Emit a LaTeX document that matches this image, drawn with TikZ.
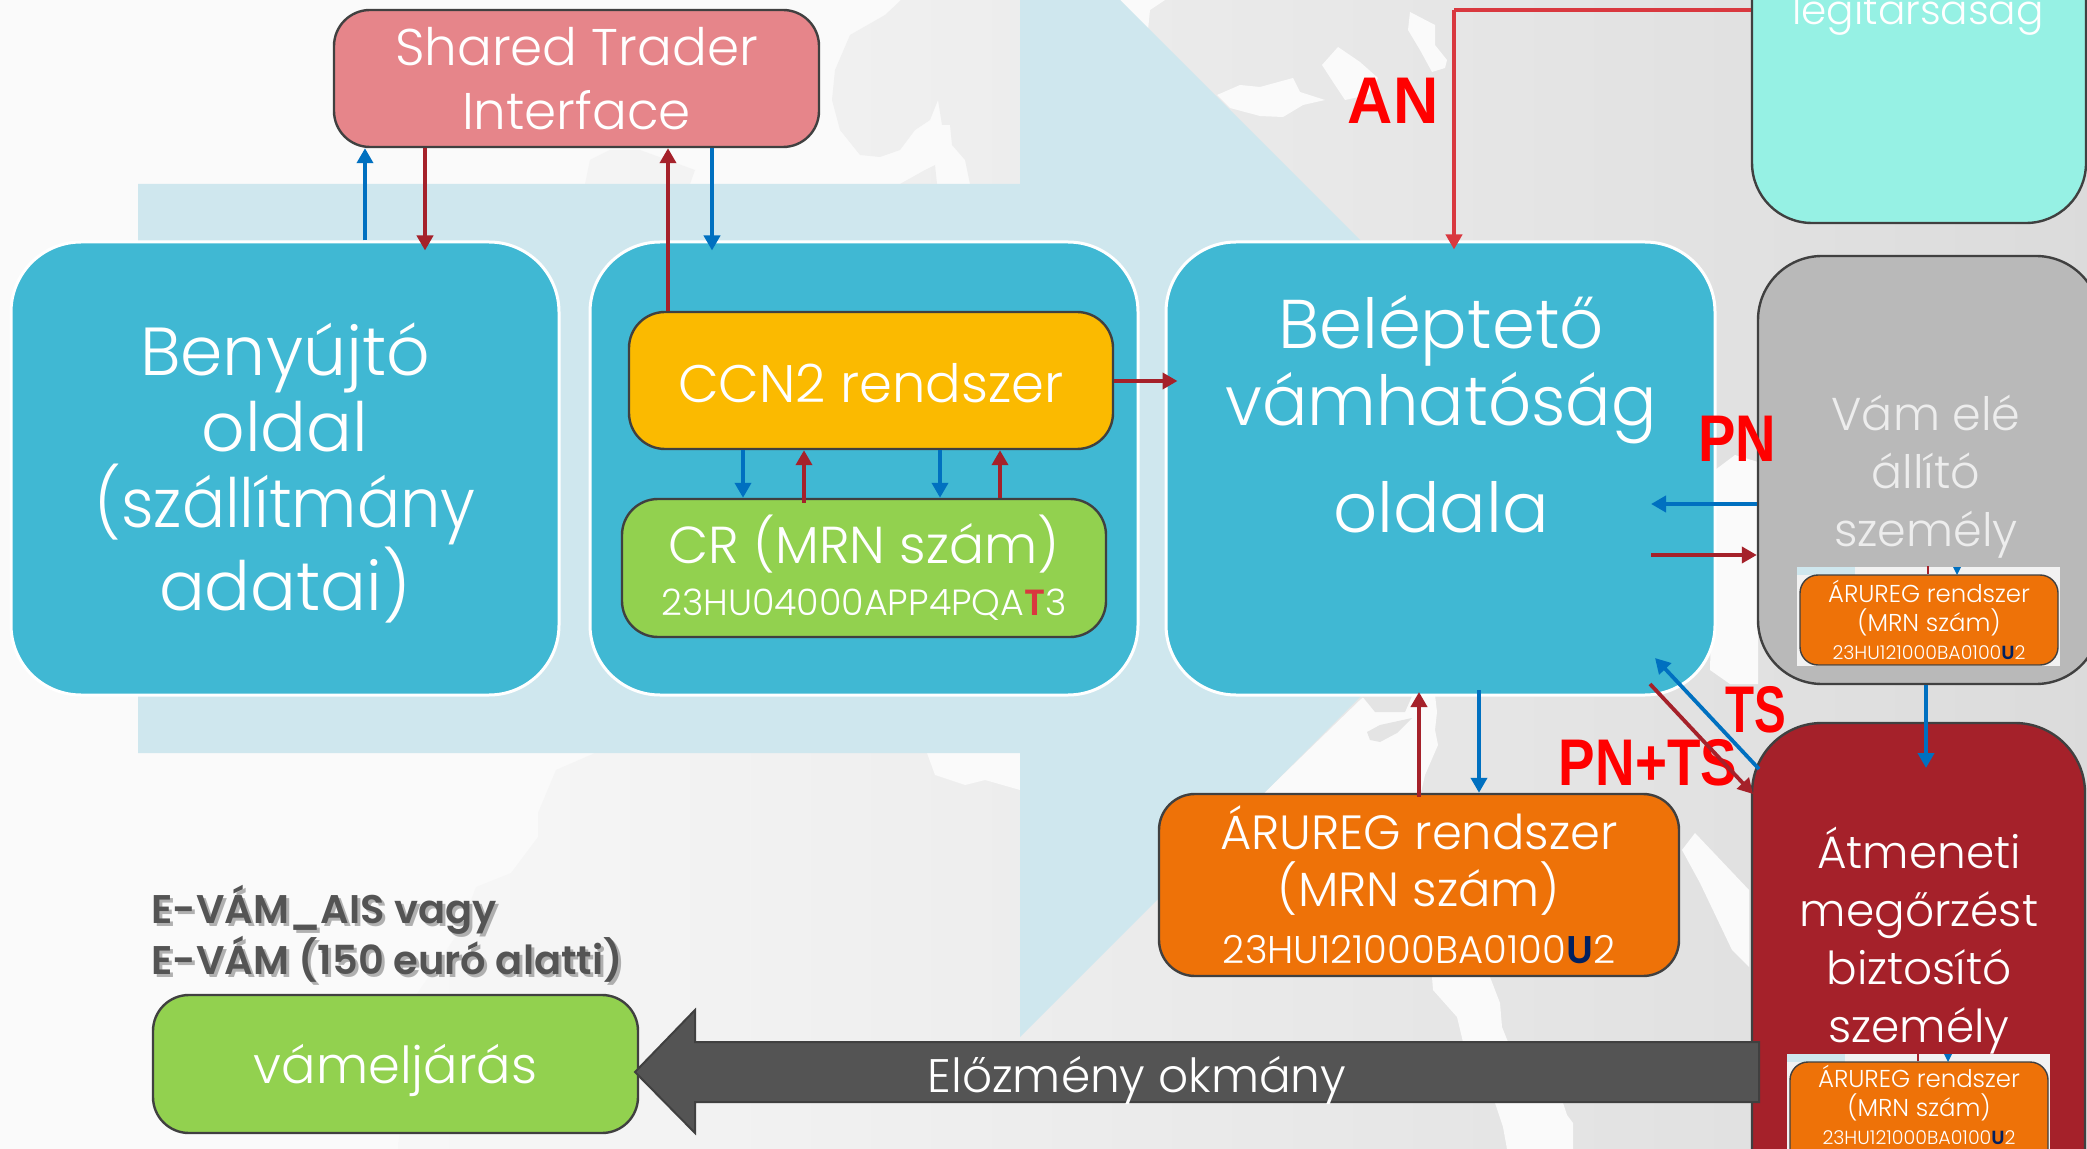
\documentclass[tikz,border=0pt]{standalone}
\usepackage{fontspec}
\setmainfont{Poppins Light}
\newfontfamily\boldf{Poppins SemiBold}
\newfontfamily\redf{Liberation Sans Bold}
\usetikzlibrary{arrows.meta}
\definecolor{tealblue}{HTML}{40B8D3}
\definecolor{arrowbg}{HTML}{CFE7EE}
\definecolor{darkred}{HTML}{A5212A}
\definecolor{linkblue}{HTML}{0070C0}
\definecolor{anred}{HTML}{D9383F}
\definecolor{orangeb}{HTML}{EE7208}
\definecolor{greenb}{HTML}{92D14F}
\definecolor{amber}{HTML}{FBBA00}
\definecolor{pinkb}{HTML}{E6858A}
\definecolor{mint}{HTML}{96F1E4}
\definecolor{grayb}{HTML}{B9B9B9}
\definecolor{edgeb}{HTML}{404040}
\definecolor{darkarrow}{HTML}{545454}
\definecolor{navyu}{HTML}{002060}
\definecolor{landmark}{HTML}{E4E4E4}
\newcommand{\fs}[2]{\fontsize{#1}{#2}\selectfont}
\newcommand{\bx}[7]{\pgfmathsetmacro\cxx{(#2+#4)/2}\pgfmathsetmacro\cyy{(#3+#5)/2}\pgfmathsetmacro\ww{(#4-#2)*0.5}\pgfmathsetmacro\hh{(#5-#3)*0.5}\node[#6,minimum width=\ww pt,minimum height=\hh pt] (#1) at (\cxx,\cyy) {#7};}
\newcommand{\tu}{\textcolor{navyu}{\boldf U}}
\tikzset{
 base box/.style={rectangle,inner sep=0pt,align=center,text=white},
 panel/.style={base box,fill=tealblue,draw=white,line width=1.5pt,rounded corners=35pt},
 sbox/.style={base box,draw=edgeb,line width=1.2pt,rounded corners=#1},
 txt/.style={inner sep=0pt,align=center,text=white},
 redlabel/.style={inner sep=0pt,text={rgb,255:red,255;green,0;blue,0},font=\redf\fs{33}{33}},
 tipr/.style={-{Triangle[length=7.5pt,width=8pt]}},
 blue link/.style={draw=linkblue,line width=1.9pt,tipr},
 red link/.style={draw=darkred,line width=1.9pt,tipr},
}
\begin{document}
\begin{tikzpicture}[x=0.5pt,y=-0.5pt]
\useasboundingbox (0,0) rectangle (2087,1149);
\clip (0,0) rectangle (2087,1149);
% background
\fill[white!98!black] (0,0) rectangle (2087,1149);
\path[left color=white!97!black,right color=white!86!black]
 (595,753) -- (556,770) -- (538,813) -- (538,837) -- (511,873) -- (476,887) -- (460,930) -- (413,1000) -- (398,1149) -- (2087,1149) -- (2087,0) -- (1120,0) -- (1100,300) -- (900,400) -- (595,400) -- cycle
 (901,0) -- (885,15) -- (850,35) -- (835,70) -- (832,100) -- (840,130) -- (860,155) -- (880,157) -- (900,150) -- (915,130) -- (930,120) -- (938,100) -- (942,125) -- (950,125) -- (952,145) -- (965,160) -- (970,184) -- (1020,184) -- (1020,0) -- cycle
 (900,184) -- (925,170) -- (935,165) -- (937,184) -- cycle
 (585,184) -- (590,160) -- (610,150) -- (640,150) -- (695,170) -- (690,184) -- cycle;
% white land details
\fill[white!98!black] (927,753) -- (935,775) -- (965,785) -- (985,780) -- (1020,790) -- (1020,753) -- cycle
 (1120,0) -- (1165,0) -- (1150,10) -- (1148,30) -- cycle
 (1217,95) -- (1240,85) -- (1260,87) -- (1293,78) -- (1300,92) -- (1325,100) -- (1303,105) -- (1283,117) -- (1260,116) -- (1230,108) -- cycle
 (1338,47) -- (1322,65) -- (1335,85) -- (1345,100) -- (1368,95) -- (1378,78) -- (1360,62) -- cycle
 (1410,12) -- (1435,25) -- (1435,45) -- (1447,60) -- (1445,68) -- (1432,72) -- (1420,50) -- (1408,30) -- cycle
 (1715,470) -- (1735,455) -- (1758,462) -- (1758,684) -- (1730,684) -- (1710,670) -- cycle
 (1682,850) -- (1695,833) -- (1749,890) -- (1749,967) -- (1732,950) -- (1700,883) -- cycle
 (1432,977) -- (1490,977) -- (1500,1003) -- (1502,1027) -- (1508,1042) -- (1463,1042) -- (1457,1017) -- (1433,990) -- cycle
 (1495,1103) -- (1563,1103) -- (1567,1115) -- (1573,1123) -- (1573,1149) -- (1507,1149) -- (1503,1127) -- cycle
 (1360,700) -- (1366,695) -- (1435,695) -- (1437,712) -- (1435,730) -- (1438,745) -- (1425,775) -- (1420,797) -- (1260,797) -- cycle;
\fill[landmark] (1362,696) -- (1412,696) -- (1405,712) -- (1375,712) -- cycle
 (1367,732) -- (1380,725) -- (1412,718) -- (1400,730) -- (1397,733) -- (1380,742) -- (1370,740) -- cycle;
% big pale arrow
\fill[arrowbg] (138,184) -- (1020,184) -- (1020,-100) -- (1588.5,468.5) -- (1020,1037) -- (1020,753) -- (138,753) -- cycle;
% panels
\bx{sub}{11}{242}{559}{695}{panel}{}
\node[txt,font=\fs{34}{38}] (subT) at (285,473) {Benyújtó\\oldal\\\scalebox{.94}[1]{(szállítmány}\\adatai)};
\bx{ccn}{590}{242}{1138}{695}{panel}{}
\bx{ent}{1166}{242}{1715}{695}{panel}{}
\node[txt,font=\fs{34.5}{38.5}] (entT) at (1441,414) {Beléptető\\\scalebox{.975}[1]{vámhatóság}\\[15pt]oldala};
\bx{sti}{334}{10}{819}{147}{sbox=18pt,fill=pinkb,font=\fs{25.8}{32}}{Shared Trader\\Interface}
\bx{ccnbox}{629}{312}{1113}{449}{sbox=18pt,fill=amber,font=\fs{26.4}{30}}{\raisebox{-1.5pt}[\height][\depth]{CCN2 rendszer}}
\bx{cr}{622}{499}{1106}{637}{sbox=18pt,fill=greenb,font=\fs{26}{26}}{CR (MRN szám)\\\fs{18.2}{21}23HU04000APP4PQA\textcolor{anred}{\boldf T}3}
\bx{air}{1752}{-120}{2086}{223}{sbox=30pt,fill=mint}{}
\node[txt,anchor=base,font=\fs{20.3}{23}] (airT) at (1918,25) {légitársaság};
\bx{pres}{1758}{256}{2100}{684}{sbox=32pt,fill=grayb}{}
\node[txt,font=\fs{23}{29},text=white!93!black] (presT) at (1926,477) {Vám elé\\állító\\személy};
\bx{warehouse}{1752}{723}{2085}{1260}{sbox=35pt,fill=darkred}{}
\node[txt,font=\fs{22.7}{29}] (wareT) at (1919,941) {Átmeneti\\megőrzést\\biztosító\\személy};
% inserted pictures
\fill[white!95!black] (1797,567) rectangle (2060,666);
\fill[arrowbg] (1797,567) rectangle (1855,575);
\fill[white!95!black] (1787,1054) rectangle (2050,1149);
\fill[arrowbg] (1787,1054) rectangle (1845,1062);
\bx{reg2}{1800}{575}{2058}{665}{sbox=9pt,fill=orangeb,line width=.7pt}{}
\node[txt,font=\fs{12.2}{14.2}] (reg2T) at (1929,620) {ÁRUREG rendszer\\(MRN szám)\\\fs{9.5}{8}23HU121000BA0100\tu 2};
\bx{reg3}{1790}{1062}{2048}{1175}{sbox=9pt,fill=orangeb,line width=.7pt}{}
\node[txt,font=\fs{12.2}{14.2}] (reg3T) at (1919,1105) {ÁRUREG rendszer\\(MRN szám)\\\fs{9.5}{8}23HU121000BA0100\tu 2};
\draw[draw=darkred,line width=.8pt] (reg2.north -| 1928,0) -- ++(0,-8);
\fill[linkblue] (1953,567) -- (1961,567) -- (1957,575) -- cycle;
\draw[draw=darkred,line width=.8pt] (reg3.north -| 1918,0) -- ++(0,-8);
\fill[linkblue] (1944,1054) -- (1952,1054) -- (1948,1062) -- cycle;
\bx{reg}{1159}{794}{1679}{976}{sbox=18pt,fill=orangeb,font=\fs{24}{28.5}}{ÁRUREG rendszer\\(MRN szám)\\\fs{19.3}{18.5}23HU121000BA0100\tu 2}
\bx{proc}{153}{995}{638}{1133}{sbox=18pt,fill=greenb,font=\fs{25.5}{25}}{\raisebox{-3.3pt}[\height][\depth]{vámeljárás}}
% previous document arrow
\draw[fill=darkarrow,draw=edgeb,line width=1pt] (1759,1042) -- (695,1042) -- (695,1010) -- (635,1072) -- (695,1133) -- (695,1102) -- (1759,1102) -- cycle;
\coordinate (prevS) at (1137,1080);
\node[txt,font=\fs{23.5}{22},anchor=center] (prevT) at (prevS) {Előzmény okmány};
% labels
\node[inner sep=0pt,align=left,anchor=north west,font=\boldf\fs{20}{23.5},text=black!50,opacity=.6] (evamS) at (154,888) {E-VÁM\_AIS vagy\\E-VÁM (150 euró alatti)};
\node[inner sep=0pt,align=left,anchor=north west,font=\boldf\fs{20}{23.5},text=darkarrow] (evam) at (151,885) {E-VÁM\_AIS vagy\\E-VÁM (150 euró alatti)};
\node[redlabel] (lAN) at (1393,101) {\scalebox{.95}[1]{AN}};
\node[redlabel] (lPN) at (1737,439) {\scalebox{.85}[1]{PN}};
\node[redlabel] (lTS) at (1756,710) {\scalebox{.72}[1]{TS}};
\node[redlabel] (lPT) at (1648,763) {\scalebox{.83}[1]{PN+TS}};
% connectors
\draw[blue link] (sub.north -| 365,0) -- (sti.south -| 365,0);
\draw[red link] (sti.south -| 425,0) -- (sub.north -| 425,0) -- ++(0,10);
\draw[red link] (ccnbox.north -| 668,0) -- (sti.south -| 668,0);
\draw[blue link] (sti.south -| 712,0) -- (ccn.north -| 712,0) -- ++(0,10);
\draw[red link] (ccnbox.east |- 0,381) -- (ent.west |- 0,381) -- ++(13,0);
\draw[blue link] (ccnbox.south -| 743,0) -- (cr.north -| 743,0);
\draw[red link] ([yshift=-2.5pt]cr.north -| 804,0) -- (ccnbox.south -| 804,0);
\draw[blue link] (ccnbox.south -| 940,0) -- (cr.north -| 940,0);
\draw[red link] (cr.north -| 1000,0) -- (ccnbox.south -| 1000,0);
\coordinate (anTurn) at (1454,10);
\draw[draw=anred,line width=2pt] (air.west |- anTurn) -- (anTurn);
\draw[draw=anred,line width=2pt,tipr] (anTurn) -- (ent.north -| anTurn) -- ++(0,9);
\coordinate (pnB) at (1651,504);
\coordinate (pnR) at (1651,555);
\draw[blue link] (pres.west |- pnB) -- (pnB);
\draw[red link] (pnR) -- (pres.west |- pnR);
\coordinate (tsB1) at (1759,769);
\coordinate (tsB2) at (1655,658);
\coordinate (tsR1) at (1650,684);
\coordinate (tsR2) at (1753,794);
\draw[blue link] (tsB1) -- (tsB2);
\draw[red link] (tsR1) -- (tsR2);
\draw[blue link] (pres.south -| 1926,0) -- (1926,768);
\draw[red link,line width=2.3pt] (reg.north -| 1419,0) ++(0,4) -- (1419,692);
\draw[blue link,line width=2pt] (1479,690) -- (reg.north -| 1479,0);
\end{tikzpicture}
\end{document}
